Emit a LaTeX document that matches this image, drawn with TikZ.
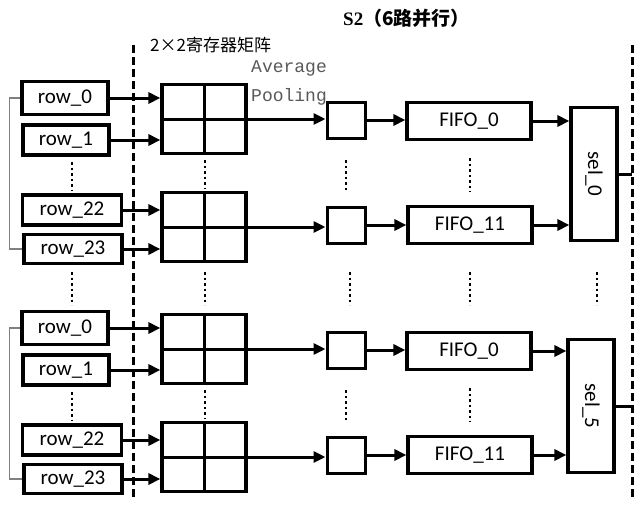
\documentclass[tikz,border=0pt]{standalone}
\usepackage{fontspec}
\setmainfont{Carlito}
\newfontfamily\cjk{Noto Sans CJK SC}
\newfontfamily\mono{Liberation Mono}
\newfontfamily\serifb{Liberation Serif}
\usetikzlibrary{arrows.meta}
\begin{document}
\begin{tikzpicture}[x=1pt,y=-1pt,
  box/.style={draw,line width=3.2pt,inner sep=0pt,font=\fontsize{21}{21}\selectfont},
  sq/.style={draw,line width=3pt,inner sep=0pt,minimum width=38,minimum height=36},
  fifo/.style={draw,line width=3.2pt,inner sep=0pt,minimum width=124,minimum height=37,font=\fontsize{21}{21}\selectfont},
  sel/.style={draw,line width=3.2pt,inner sep=0pt,minimum width=46,minimum height=133,font=\fontsize{21}{21}\selectfont},
  grid/.style={draw,line width=3.2pt,inner sep=0pt,minimum width=84,minimum height=69,
     path picture={\draw[line width=3pt] (path picture bounding box.north) -- (path picture bounding box.south)
       (path picture bounding box.west) -- (path picture bounding box.east);}},
  arr/.style={line width=3pt,-{Triangle[length=12pt,width=11pt]}},
  dots/.style={line width=2.5pt,dash pattern=on 2.5pt off 3pt},
  sepline/.style={line width=3pt,dash pattern=on 8pt off 4pt},
  brk/.style={draw=gray,line width=1.3pt}]
\useasboundingbox (0,0) rectangle (640,520);
% dashed separators
\coordinate (dlt) at (133,45); \coordinate (dlb) at (133,500);
\coordinate (drt) at (632,45); \coordinate (drb) at (632,500);
\draw[sepline] (dlt) -- (dlb);
\draw[sepline] (drt) -- (drb);
% titles
\node[font=\cjk\fontsize{17}{17}\selectfont,anchor=west,inner sep=0pt] (t1) at (150,45) {2×2寄存器矩阵};
\node[font=\mono\fontsize{18}{18}\selectfont,text=gray!70!black,anchor=west,inner sep=0pt] (t2) at (251,68) {Average};
\node[font=\mono\fontsize{18}{18}\selectfont,text=gray!70!black,anchor=west,inner sep=0pt] (t3) at (251,97) {Pooling};
\node[font=\serifb\bfseries\fontsize{19}{19}\selectfont,anchor=west,inner sep=0pt] (t4) at (343,18) {S2\cjk\bfseries（6路并行）};
\foreach \o/\s in {0/a,230/b}{
  \begin{scope}[yshift=-\o]
  \node[box,minimum width=86,minimum height=33] (r0\s) at (65,98) {row\_0};
  \node[box,minimum width=86,minimum height=30] (r1\s) at (66,140) {row\_1};
  \node[box,minimum width=99,minimum height=30] (r22\s) at (72,210) {row\_22};
  \node[box,minimum width=98,minimum height=29] (r23\s) at (73,249) {row\_23};
  \node[grid] (g1\s) at (204,119) {};
  \node[grid] (g2\s) at (204,227) {};
  \node[sq] (p1\s) at (346,120) {};
  \node[sq] (p2\s) at (346,225) {};
  \node[fifo] (f1\s) at (469,121) {FIFO\_0};
  \node[fifo] (f2\s) at (470,225) {FIFO\_11};
  \coordinate (d1\s) at (72,162); \coordinate (d1e\s) at (72,190);
  \coordinate (d2\s) at (205,160); \coordinate (d2e\s) at (205,188);
  \coordinate (d3\s) at (346,160); \coordinate (d3e\s) at (346,192);
  \coordinate (d4\s) at (470,158); \coordinate (d4e\s) at (470,192);
  \end{scope}
  \draw[brk] (r0\s.west) -- ++(-11,0) |- (r23\s.west);
  \foreach \r/\g in {r0/g1,r1/g1,r22/g2,r23/g2}{
    \draw[arr] (\r\s.east) -- (\r\s.east -| \g\s.west);}
  \draw[arr] (g1\s.east) -- (g1\s.east -| p1\s.west);
  \draw[arr] (g2\s.east) -- (g2\s.east -| p2\s.west);
  \draw[arr] (p1\s.east) -- (p1\s.east -| f1\s.west);
  \draw[arr] (p2\s.east) -- (p2\s.east -| f2\s.west);
  \foreach \i in {1,2,3,4}{\draw[dots] (d\i\s) -- (d\i e\s);}
}
\node[sel] (s0) at (594,174) {\rotatebox{-90}{sel\_0}};
\node[sel] (s5) at (591,406) {\rotatebox{-90}{sel\_5}};
\foreach \f in {f1a,f2a}{\draw[arr] (\f.east) -- (\f.east -| s0.west);}
\foreach \f in {f1b,f2b}{\draw[arr] (\f.east) -- (\f.east -| s5.west);}
\draw[line width=3pt] (s0.east) -- (s0.east -| drt);
\draw[line width=3pt] (s5.east) -- (s5.east -| drt);
% middle dots
\foreach \x/\n in {72/m1,205/m2,350/m3,470/m4,597/m5}{
  \coordinate (\n) at (\x,272); \coordinate (\n e) at (\x,305);
  \draw[dots] (\n) -- (\n e);}
\end{tikzpicture}
\end{document}
